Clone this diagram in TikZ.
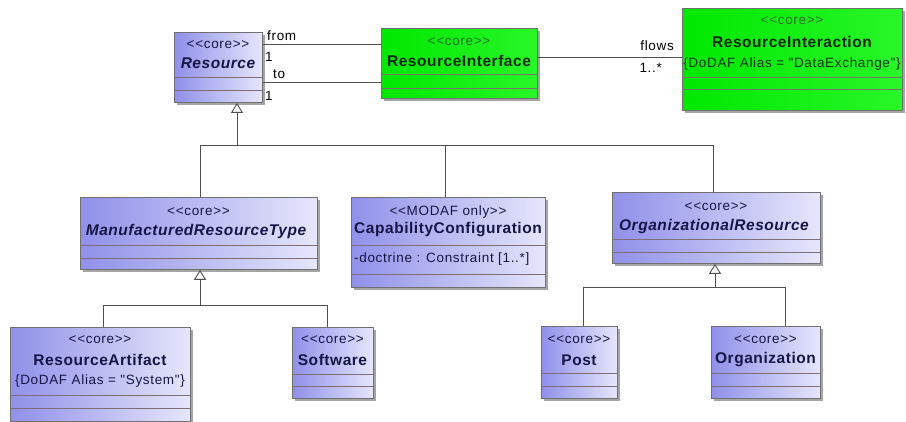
\documentclass[tikz,border=0pt]{standalone}
\usepackage{fontspec}
\setmainfont{Liberation Sans}
\newfontfamily\umlreg[LetterSpace=5]{Liberation Sans}
\newfontfamily\umlbold[LetterSpace=3.5]{Liberation Sans}
\usetikzlibrary{arrows.meta,shadows}
\definecolor{umlL}{RGB}{144,144,234}
\definecolor{umlR}{RGB}{230,230,252}
\definecolor{grnL}{RGB}{0,232,0}
\definecolor{grnR}{RGB}{40,246,40}
\definecolor{bordc}{RGB}{112,112,112}
\definecolor{compc}{RGB}{128,110,118}
\definecolor{shadc}{RGB}{165,165,165}
\definecolor{navytxt}{RGB}{22,22,70}
\definecolor{gsttxt}{RGB}{40,112,40}
\definecolor{gnmtxt}{RGB}{12,40,12}
\definecolor{linec}{RGB}{80,80,80}
\newcommand\stereo[1]{{<}{<}#1{>}{>}}
\tikzset{
  cls/.style={rectangle, draw=bordc, line width=0.9pt, inner sep=0pt, anchor=north west,
    left color=umlL, right color=umlR,
    drop shadow={shadow xshift=3pt, shadow yshift=-3pt, fill=shadc, opacity=1}},
  gcls/.style={cls, left color=grnL, right color=grnR},
  comp/.style={draw=compc, line width=0.8pt},
  st/.style={inner sep=0pt, text=navytxt, font=\fontsize{13.5}{15}\selectfont\umlreg},
  nm/.style={inner sep=0pt, text=navytxt, font=\fontsize{15.5}{17}\selectfont\umlbold\bfseries},
  anm/.style={nm, font=\fontsize{15.5}{17}\selectfont\umlbold\bfseries\itshape},
  gst/.style={st, text=gsttxt},
  gnm/.style={nm, text=gnmtxt},
  lbl/.style={inner sep=0pt, text=black, font=\fontsize{13.5}{15}\selectfont\umlreg},
  conn/.style={draw=linec, line width=0.9pt},
  gen/.style={conn, -{Triangle[open, length=10pt, width=12pt, line width=0.9pt]}},
}
\newcommand\complines[3]{%
  \draw[comp] (#1.west |- 0,#2) -- (#1.east |- 0,#2);
  \draw[comp] (#1.west |- 0,#3) -- (#1.east |- 0,#3);}
\begin{document}
\begin{tikzpicture}[x=1pt,y=-1pt]
\useasboundingbox[fill=white] (0,0) rectangle (906,422);

% ---------- boxes ----------
\node[cls, minimum width=88pt, minimum height=70pt] (res) at (174,32) {};
\complines{res}{77}{90}
\node[st] (res-s) at (218,45) {\stereo{core}};
\node[anm] (res-n) at (218,63) {Resource};

\node[gcls, minimum width=156pt, minimum height=70pt] (ri) at (381,28) {};
\complines{ri}{74}{88}
\node[gst] (ri-s) at (459,42) {\stereo{core}};
\node[gnm] (ri-n) at (459,61) {ResourceInterface};

\node[gcls, minimum width=220pt, minimum height=102pt] (rx) at (682,8) {};
\complines{rx}{77}{89}
\node[gst] (rx-s) at (792,21) {\stereo{core}};
\node[gnm] (rx-n) at (792,42) {ResourceInteraction};
\node[st, text=gnmtxt!80!gsttxt] (rx-a) at (792,64) {\{DoDAF Alias = "DataExchange"\}};

\node[cls, minimum width=237pt, minimum height=72pt] (mrt) at (80,197) {};
\complines{mrt}{245}{258}
\node[st] (mrt-s) at (198.5,212) {\stereo{core}};
\node[anm] (mrt-n) at (196,231) {ManufacturedResourceType};

\node[cls, minimum width=194pt, minimum height=90pt] (cc) at (351,197) {};
\complines{cc}{245}{274}
\node[st] (cc-s) at (448,212) {\stereo{MODAF only}};
\node[nm] (cc-n) at (448,230) {CapabilityConfiguration};
\node[st, anchor=west] (cc-a) at (354,259) {-doctrine : Constraint [1..*]};

\node[cls, minimum width=208pt, minimum height=71pt] (org) at (612,192) {};
\complines{org}{239}{252}
\node[st] (org-s) at (716,207) {\stereo{core}};
\node[anm] (org-n) at (714,226) {OrganizationalResource};

\node[cls, minimum width=180pt, minimum height=94pt] (ra) at (10,327) {};
\complines{ra}{395}{408}
\node[st] (ra-s) at (100,340) {\stereo{core}};
\node[nm] (ra-n) at (100,360) {ResourceArtifact};
\node[st] (ra-a) at (100,381) {\{DoDAF Alias = "System"\}};

\node[cls, minimum width=81pt, minimum height=71pt] (sw) at (292,327) {};
\complines{sw}{374}{386}
\node[st] (sw-s) at (332.5,340) {\stereo{core}};
\node[nm] (sw-n) at (332.5,360) {Software};

\node[cls, minimum width=76pt, minimum height=72pt] (post) at (541,326) {};
\complines{post}{373}{386}
\node[st] (post-s) at (579,340) {\stereo{core}};
\node[nm] (post-n) at (579,360) {Post};

\node[cls, minimum width=109pt, minimum height=72pt] (orgn) at (711,326) {};
\complines{orgn}{373}{386}
\node[st] (orgn-s) at (765.5,340) {\stereo{core}};
\node[nm] (orgn-n) at (765.5,360) {Organization};

% ---------- associations ----------
\draw[conn] (res.east |- 0,44) -- (ri.west |- 0,44);
\draw[conn] (res.east |- 0,82) -- (ri.west |- 0,82);
\draw[conn] (ri.east |- 0,57) -- (rx.west |- 0,57);
\node[lbl, anchor=west] (l-from) at (267,36) {from};
\node[lbl, anchor=west] (l-1a) at (265,57) {1};
\node[lbl, anchor=west] (l-to) at (273,74) {to};
\node[lbl, anchor=west] (l-1b) at (265,96) {1};
\node[lbl, anchor=east] (l-flows) at (674,46) {flows};
\node[lbl, anchor=east] (l-mult) at (662,68) {1..*};

% ---------- generalizations ----------
\coordinate (j1) at (237,145);
\coordinate (j2) at (200,305);
\coordinate (j3) at (715,287);
\draw[gen] (j1) -- (res.south -| j1);
\draw[conn] (mrt.north -| 200,0) |- (j1);
\draw[conn] (cc.north -| 445,0) |- (j1);
\draw[conn] (org.north -| 713,0) |- (j1);
\draw[gen] (j2) -- (mrt.south -| j2);
\draw[conn] (ra.north -| 103,0) |- (j2);
\draw[conn] (sw.north -| 327,0) |- (j2);
\draw[gen] (j3) -- (org.south -| j3);
\draw[conn] (post.north -| 583,0) |- (j3);
\draw[conn] (orgn.north -| 785,0) |- (j3);
\end{tikzpicture}
\end{document}
